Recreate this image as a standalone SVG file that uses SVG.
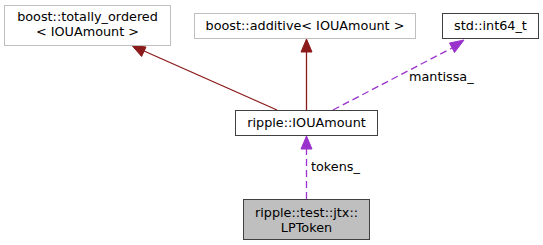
<svg xmlns="http://www.w3.org/2000/svg" width="543" height="245" viewBox="0 0 543 245">
  <defs>
    <style>
      .box { fill: #ffffff; stroke: #404040; stroke-width: 1; }
      .ext { fill: #ffffff; stroke: #bfbfbf; stroke-width: 1; }
      .cur { fill: #bfbfbf; stroke: #404040; stroke-width: 1; }
      text { font-family: "DejaVu Sans", "Liberation Sans", sans-serif; font-size: 12.8px; fill: #000000; }
      .c { text-anchor: middle; }
      .inh { fill: none; stroke: #8b1a1a; stroke-width: 1.3; }
      .use { fill: none; stroke: #9a32cd; stroke-width: 1.3; stroke-dasharray: 7,4; }
      .hinh { fill: #8b1a1a; stroke: #8b1a1a; stroke-width: 1; }
      .huse { fill: #9a32cd; stroke: #9a32cd; stroke-width: 1; }
    </style>
  </defs>

  <!-- connectors -->
  <g id="edges">
    <!-- IOUAmount inherits totally_ordered -->
    <path class="inh" d="M277,110 L144,51"/>
    <polygon class="hinh" points="132,45.5 146,47 141.6,56.5"/>
    <!-- IOUAmount inherits additive -->
    <path class="inh" d="M306.5,110 L306.5,52"/>
    <polygon class="hinh" points="306.5,39 312,52 301,52"/>
    <!-- IOUAmount::mantissa_ -> int64_t -->
    <path class="use" d="M333,110 L452,48"/>
    <polygon class="huse" points="464,40 454.5,52.5 449.5,43"/>
    <text x="409" y="81">mantissa_</text>
    <!-- LPToken::tokens_ -> IOUAmount -->
    <path class="use" d="M306.5,199 L306.5,149"/>
    <polygon class="huse" points="306.5,136 312,149 301,149"/>
    <text x="311" y="171">tokens_</text>
  </g>

  <g id="node_totally_ordered">
    <rect class="ext" x="4.5" y="5.5" width="166" height="40"/>
    <text class="c" x="87.5" y="20.5">boost::totally_ordered</text>
    <text class="c" x="87.5" y="35.5">&lt; IOUAmount &gt;</text>
  </g>

  <g id="node_additive">
    <rect class="ext" x="194.5" y="13.5" width="221" height="25"/>
    <text class="c" x="305" y="30">boost::additive&lt; IOUAmount &gt;</text>
  </g>

  <g id="node_int64">
    <rect class="box" x="442.5" y="13.5" width="96" height="25"/>
    <text class="c" x="490.5" y="30">std::int64_t</text>
  </g>

  <g id="node_iouamount">
    <rect class="box" x="235.5" y="110.5" width="142" height="25"/>
    <text class="c" x="306.5" y="127">ripple::IOUAmount</text>
  </g>

  <g id="node_lptoken">
    <rect class="cur" x="243.5" y="199.5" width="126" height="40"/>
    <text class="c" x="306.5" y="217">ripple::test::jtx::</text>
    <text class="c" x="306.5" y="231.5">LPToken</text>
  </g>
</svg>
